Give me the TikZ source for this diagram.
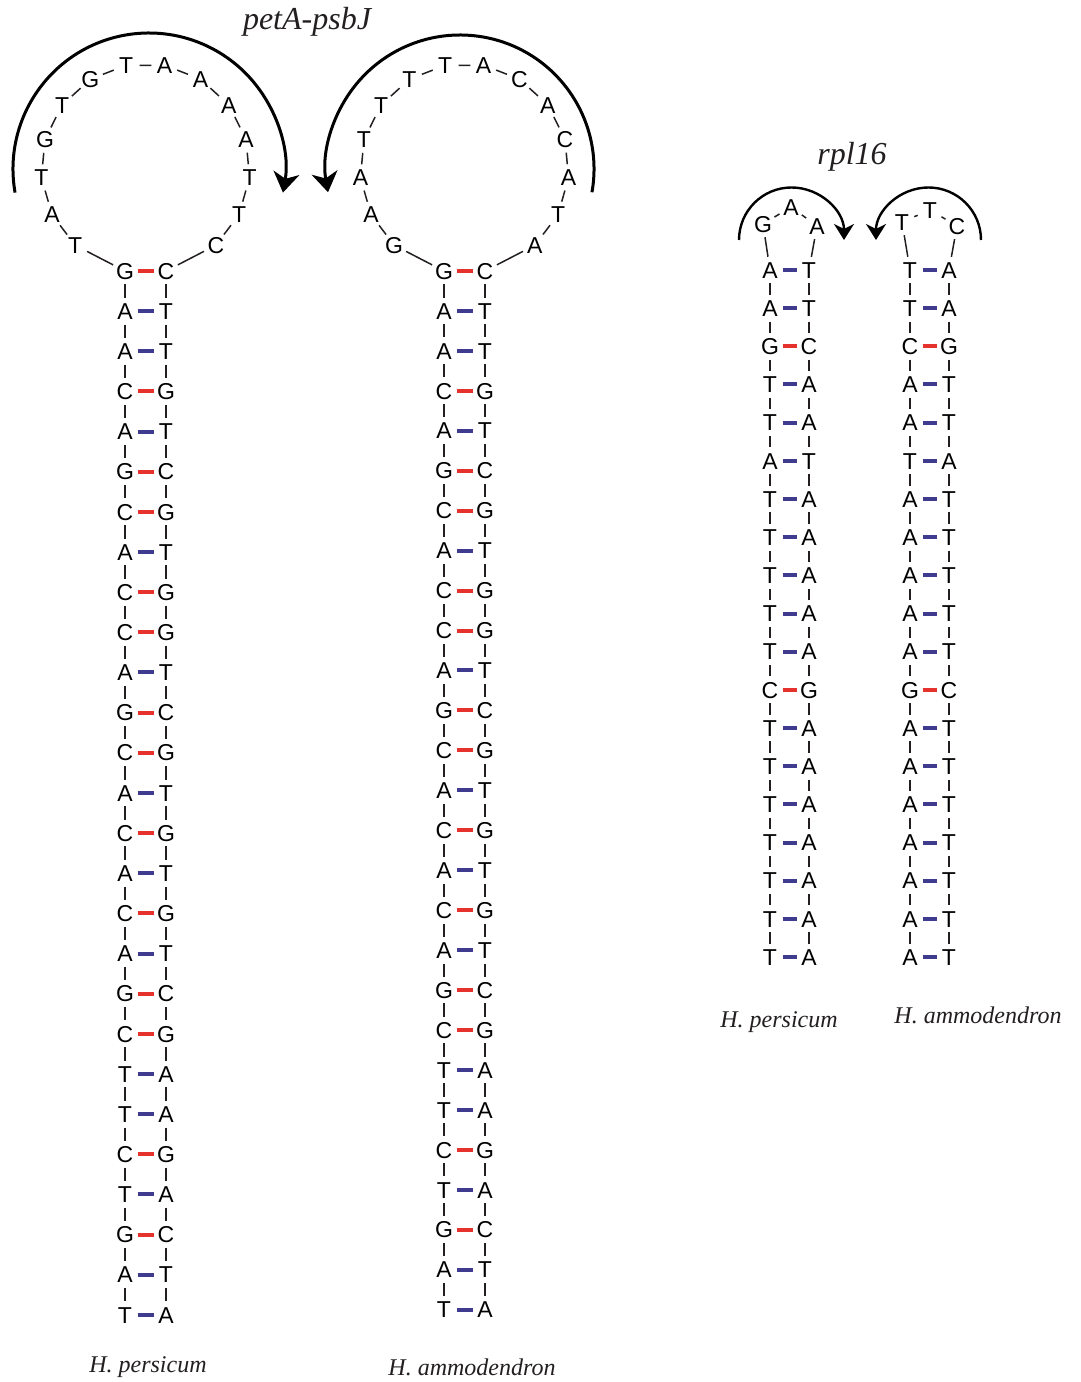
\documentclass[tikz,border=0pt]{standalone}
\usepackage{fontspec}
\setmainfont{Liberation Serif}
\setsansfont{Liberation Sans}
\usepackage{xcolor}
\definecolor{cPairGC}{HTML}{E5322D}
\definecolor{cPairAT}{HTML}{3F3C90}
\definecolor{cInk}{HTML}{231F20}
\usepackage{tikz}
\usetikzlibrary{arrows.meta}
\tikzset{
  nt/.style={circle,inner sep=0pt,minimum size=13pt,text=black,
    font=\sffamily\fontsize{11.5}{13}\selectfont,text height=8.2pt,text depth=0pt},
  backbone/.style={draw=cInk,line width=0.75pt},
  pair-gc/.style={draw=cPairGC,line width=2pt,shorten <=6.25pt,shorten >=6.25pt},
  pair-at/.style={draw=cPairAT,line width=2pt,shorten <=6.25pt,shorten >=6.25pt},
  loop-arrow/.style={-{Stealth[length=10pt,width=13pt,inset=3pt]},line width=1.5pt,draw=black},
  loop-arrow-small/.style={-{Stealth[length=8pt,width=10pt,inset=2.5pt]},line width=1.2pt,draw=black},
  title/.style={font=\itshape\fontsize{16}{18}\selectfont,text=cInk},
  species/.style={font=\itshape\fontsize{12}{14}\selectfont,text=cInk},
}
% stem pairs, read from the loop downwards: left/right/kind
\newcommand\petApairs{G/C/gc,A/T/at,A/T/at,C/G/gc,A/T/at,G/C/gc,C/G/gc,A/T/at,C/G/gc,C/G/gc,%
  A/T/at,G/C/gc,C/G/gc,A/T/at,C/G/gc,A/T/at,C/G/gc,A/T/at,G/C/gc,C/G/gc,%
  T/A/at,T/A/at,C/G/gc,T/A/at,G/C/gc,A/T/at,T/A/at}
\newcommand\rplPpairs{A/T/at,A/T/at,G/C/gc,T/A/at,T/A/at,A/T/at,T/A/at,T/A/at,T/A/at,T/A/at,%
  T/A/at,C/G/gc,T/A/at,T/A/at,T/A/at,T/A/at,T/A/at,T/A/at,T/A/at}
\newcommand\rplApairs{T/A/at,T/A/at,C/G/gc,A/T/at,A/T/at,T/A/at,A/T/at,A/T/at,A/T/at,A/T/at,%
  A/T/at,G/C/gc,A/T/at,A/T/at,A/T/at,A/T/at,A/T/at,A/T/at,A/T/at}

\begin{document}
\begin{tikzpicture}[x=0.5pt,y=0.5pt]
  \useasboundingbox (0,0) rectangle (1081,1382);

  % petA-psbJ, H. persicum
  \foreach \l/\r/\c [count=\i] in \petApairs {
    \node[nt] (hp-l\i) at (125,{1111-(\i-1)*40.15}) {\l};
    \node[nt] (hp-r\i) at (166,{1111-(\i-1)*40.15}) {\r};
    \draw[pair-\c] (hp-l\i.center) -- (hp-r\i.center);
  }
  \foreach \i [remember=\i as \j (initially 1)] in {2,...,27} {
    \draw[backbone] (hp-l\j) -- (hp-l\i);
    \draw[backbone] (hp-r\j) -- (hp-r\i);
  }
  \foreach \b [count=\k, evaluate=\k as \ang using 227.7-(\k-1)*21.18] in {T,A,T,G,T,G,T,A,A,A,A,T,T,C}
    \node[nt] (hp-k\k) at ({145.5+104.5*cos(\ang)},{1214+104.5*sin(\ang)}) {\b};
  \draw[backbone] (hp-l1) -- (hp-k1);
  \foreach \i [remember=\i as \j (initially 1)] in {2,...,14}
    \draw[backbone] (hp-k\j) -- (hp-k\i);
  \draw[backbone] (hp-k14) -- (hp-r1);
  \coordinate (hp-a) at ({149+136*cos(190)},{1213+136*sin(190)});
  \draw[loop-arrow] (hp-a) arc[start angle=190,end angle=-10,radius=136];

  % petA-psbJ, H. ammodendron
  \foreach \l/\r/\c [count=\i] in \petApairs {
    \node[nt] (ha-l\i) at (444,{1111-(\i-1)*39.95}) {\l};
    \node[nt] (ha-r\i) at (485,{1111-(\i-1)*39.95}) {\r};
    \draw[pair-\c] (ha-l\i.center) -- (ha-r\i.center);
  }
  \foreach \i [remember=\i as \j (initially 1)] in {2,...,27} {
    \draw[backbone] (ha-l\j) -- (ha-l\i);
    \draw[backbone] (ha-r\j) -- (ha-r\i);
  }
  \foreach \b [count=\k, evaluate=\k as \ang using 227.7-(\k-1)*21.18] in {G,A,A,T,T,T,T,A,C,A,C,A,T,A}
    \node[nt] (ha-k\k) at ({464.5+104.5*cos(\ang)},{1214+104.5*sin(\ang)}) {\b};
  \draw[backbone] (ha-l1) -- (ha-k1);
  \foreach \i [remember=\i as \j (initially 1)] in {2,...,14}
    \draw[backbone] (ha-k\j) -- (ha-k\i);
  \draw[backbone] (ha-k14) -- (ha-r1);
  \coordinate (ha-a) at ({460+134*cos(-10)},{1213+134*sin(-10)});
  \draw[loop-arrow] (ha-a) arc[start angle=-10,end angle=190,radius=134];

  % rpl16, H. persicum
  \foreach \l/\r/\c [count=\i] in \rplPpairs {
    \node[nt] (rp-l\i) at (770,{1112-(\i-1)*38.17}) {\l};
    \node[nt] (rp-r\i) at (809,{1112-(\i-1)*38.17}) {\r};
    \draw[pair-\c] (rp-l\i.center) -- (rp-r\i.center);
  }
  \foreach \i [remember=\i as \j (initially 1)] in {2,...,19} {
    \draw[backbone] (rp-l\j) -- (rp-l\i);
    \draw[backbone] (rp-r\j) -- (rp-r\i);
  }
  \node[nt] (rp-k1) at (763,1158) {G};
  \node[nt] (rp-k2) at (791,1175) {A};
  \node[nt] (rp-k3) at (817,1156) {A};
  \draw[backbone] (rp-l1) -- (rp-k1);
  \draw[backbone] (rp-k1) -- (rp-k2);
  \draw[backbone] (rp-k2) -- (rp-k3);
  \draw[backbone] (rp-k3) -- (rp-r1);
  \coordinate (rp-a) at (739,1142);
  \draw[loop-arrow-small] (rp-a) arc[start angle=180,end angle=0,radius=52.5];

  % rpl16, H. ammodendron
  \foreach \l/\r/\c [count=\i] in \rplApairs {
    \node[nt] (ra-l\i) at (910,{1112-(\i-1)*38.17}) {\l};
    \node[nt] (ra-r\i) at (949,{1112-(\i-1)*38.17}) {\r};
    \draw[pair-\c] (ra-l\i.center) -- (ra-r\i.center);
  }
  \foreach \i [remember=\i as \j (initially 1)] in {2,...,19} {
    \draw[backbone] (ra-l\j) -- (ra-l\i);
    \draw[backbone] (ra-r\j) -- (ra-r\i);
  }
  \node[nt] (ra-k1) at (902,1160) {T};
  \node[nt] (ra-k2) at (930,1172) {T};
  \node[nt] (ra-k3) at (957,1156) {C};
  \draw[backbone] (ra-l1) -- (ra-k1);
  \draw[backbone] (ra-k1) -- (ra-k2);
  \draw[backbone] (ra-k2) -- (ra-k3);
  \draw[backbone] (ra-k3) -- (ra-r1);
  \coordinate (ra-a) at (981,1142);
  \draw[loop-arrow-small] (ra-a) arc[start angle=0,end angle=180,radius=52.5];

  % titles and species
  \node[title] (petA) at (307,1360) {petA-psbJ};
  \node[title] (rpl)  at (852,1225) {rpl16};
  \node[species] (sp-hp) at (148,15)  {H. persicum};
  \node[species] (sp-ha) at (472,15)  {H. ammodendron};
  \node[species] (sp-rp) at (779,360) {H. persicum};
  \node[species] (sp-ra) at (978,367) {H. ammodendron};
\end{tikzpicture}
\end{document}
